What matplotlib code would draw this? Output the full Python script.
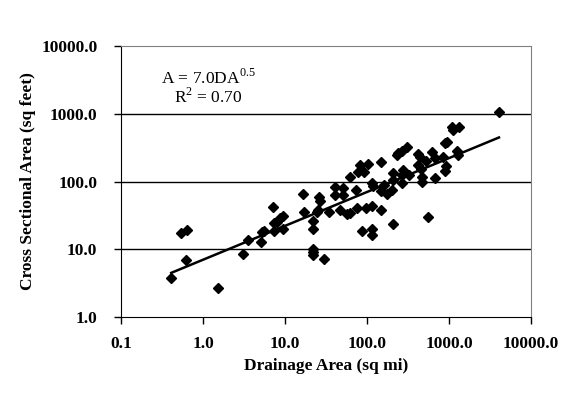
import numpy as np
from matplotlib import pyplot as plt
from matplotlib.ticker import FixedLocator, FixedFormatter, NullLocator

#   Data (drainage area in sq mi, cross sectional area in sq feet)
drainage_area = [
    0.41, 0.54, 0.64, 0.62, 1.52, 3.1, 3.5, 5.1, 5.2, 5.5,
    7.1, 7.3, 7.3, 8.0, 8.7, 9.5, 9.5, 16.6, 17, 21.9,
    21.9, 21.9, 21.9, 21.9, 29.9, 24.5, 25.2, 26, 26.7, 34.4,
    40.7, 40.7, 46.9, 51, 51, 57, 62, 62, 73.5, 75.5,
    77.6, 82, 92, 103, 87, 97, 115, 115, 115, 115,
    117, 148, 148, 148, 161, 175, 202, 207, 207, 207,
    232, 239, 267, 308, 267, 275, 267, 325, 419, 443,
    419, 456, 469, 469, 525, 621, 675, 555, 675, 845,
    894, 946, 919, 894, 1090, 1120, 1324, 1253, 1290, 4070,
]
cross_section = [
    3.8, 17.4, 19.2, 6.9, 2.7, 8.5, 13.7, 12.8, 18, 18.6,
    42, 24.4, 18.6, 25, 29, 31, 19.9, 65, 35.5, 26,
    19.9, 10.1, 9.1, 8.2, 7.2, 35.5, 38, 59, 51.5, 35.5,
    83, 63, 38, 80, 63, 33, 34, 116, 75, 40.6,
    138, 175, 138, 181, 18.6, 40.6, 43.5, 19.9, 16.2, 95,
    86, 194, 72, 38, 89, 65, 75, 105, 133, 23.6,
    246, 264, 282, 323, 95, 148, 125, 125, 255, 230,
    175, 153, 116, 98, 201, 272, 222, 30, 113, 230,
    370, 383, 170, 143, 637, 575, 637, 282, 246, 1060,
]

#   Power law fit  A = 7.0 DA^0.5
coef = 7.0
expo = 0.5

x_tick_values = [0.1, 1, 10, 100, 1000, 10000]
x_tick_labels = ['0.1', '1.0', '10.0', '100.0', '1000.0', '10000.0']
y_tick_values = [1, 10, 100, 1000, 10000]
y_tick_labels = ['1.0', '10.0', '100.0', '1000.0', '10000.0']
grid_values = [10, 100, 1000]

plt.rcParams['font.family'] = ['Liberation Serif', 'DejaVu Serif']

fig = plt.figure(figsize=(5.74, 3.93), dpi=100)
ax = fig.add_axes([121 / 574, 1 - 317 / 393, 410 / 574, 271 / 393])

ax.set_xscale('log')
ax.set_yscale('log')
ax.set_xlim(0.1, 10000)
ax.set_ylim(1, 10000)

#   gridlines
for v in grid_values:
    ax.axhline(v, color='black', lw=1, zorder=1)

ax.plot(drainage_area, cross_section, linestyle='none', marker='D',
        markersize=5.5, color='black', zorder=3)

fit_x = np.logspace(np.log10(min(drainage_area)), np.log10(max(drainage_area)), 50)
ax.plot(fit_x, coef * fit_x ** expo, color='black', lw=1.8, zorder=2)

ax.text(0.212, 0.882, 'A = 7.0DA$^{\\mathregular{0.5}}$', transform=ax.transAxes,
        ha='center', va='center', fontsize=12.5)
ax.text(0.212, 0.812, 'R$^{\\mathregular{2}}$ = 0.70', transform=ax.transAxes,
        ha='center', va='center', fontsize=12.5)

ax.xaxis.set_major_locator(FixedLocator(x_tick_values))
ax.xaxis.set_major_formatter(FixedFormatter(x_tick_labels))
ax.yaxis.set_major_locator(FixedLocator(y_tick_values))
ax.yaxis.set_major_formatter(FixedFormatter(y_tick_labels))
ax.xaxis.set_minor_locator(NullLocator())
ax.yaxis.set_minor_locator(NullLocator())

ax.tick_params(direction='out', length=5, width=1, color='black', labelsize=12.5)
ax.tick_params(axis='y', pad=12)
ax.tick_params(axis='x', pad=9)
for lab in ax.get_xticklabels() + ax.get_yticklabels():
    lab.set_fontweight('bold')

ax.spines['top'].set_color('#808080')
ax.spines['right'].set_color('#808080')
ax.spines['left'].set_color('black')
ax.spines['bottom'].set_color('black')

ax.set_xlabel('Drainage Area (sq mi)', fontsize=12.5, fontweight='bold', labelpad=4)
ax.set_ylabel('Cross Sectional Area (sq feet)', fontsize=12.5, fontweight='bold', labelpad=4)

fig.savefig('out.png', dpi=100)
